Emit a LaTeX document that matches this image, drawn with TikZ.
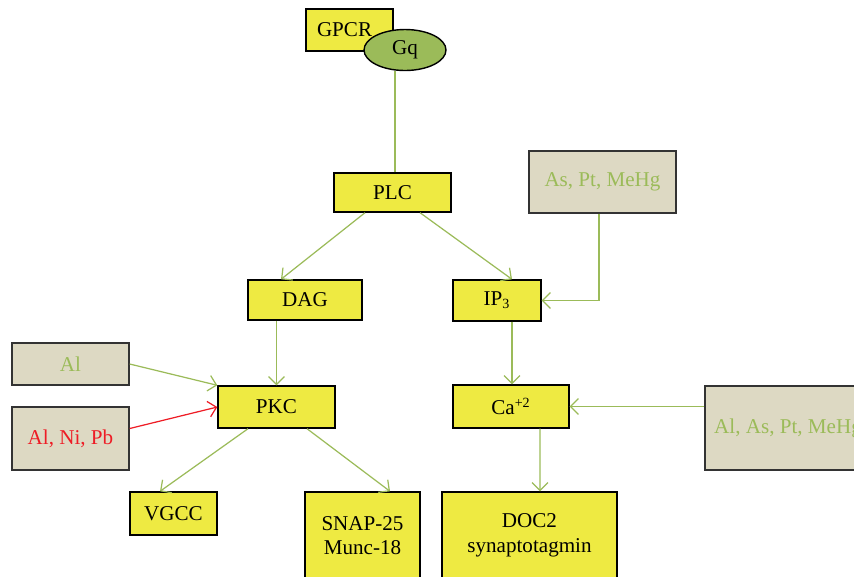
\documentclass[tikz,border=0pt]{standalone}
\usepackage{fontspec}
\setmainfont{Liberation Serif}
\usetikzlibrary{shapes.geometric, arrows.meta, calc}
\definecolor{boxyellow}{HTML}{EEEA42}
\definecolor{toxgray}{HTML}{DDD9C3}
\definecolor{leafgreen}{HTML}{9BBB59}
\definecolor{alertred}{HTML}{EE1C25}
\tikzstyle{protein} = [rectangle, draw=black, line width=0.8pt, fill=boxyellow, text centered, align=center, inner sep=0pt]
\tikzstyle{toxin} = [rectangle, draw=black!80, line width=0.8pt, fill=toxgray, text=leafgreen, align=center, inner sep=0pt]
\tikzstyle{link} = [leafgreen, line width=0.7pt]
\tikzstyle{arrow} = [leafgreen, line width=0.7pt, -{Straight Barb[length=4.5pt,width=9pt]}]

\begin{document}
\begin{tikzpicture}[x=0.02cm, y=-0.02cm, font=\fontsize{12}{14}\selectfont]
\clip (0,0) rectangle (854,576);
\node (gpcr) [protein, minimum width=1.74cm, minimum height=0.84cm, text width=1.3cm, align=left] at (349.5,30) {GPCR};
\node (gq) [ellipse, draw=black, line width=0.8pt, fill=leafgreen, minimum width=1.64cm, minimum height=0.82cm, inner sep=0pt] at (405,50) {Gq};
\node (plc) [protein, minimum width=2.34cm, minimum height=0.78cm] at (392.5,192.5) {PLC};
\node (metals1) [toxin, minimum width=2.94cm, minimum height=1.24cm] at (602.5,182) {As, Pt, MeHg};
\node (dag) [protein, minimum width=2.28cm, minimum height=0.8cm] at (305,300) {DAG};
\node (ip3) [protein, minimum width=1.76cm, minimum height=0.82cm] at (497,300.5) {IP\textsubscript{3}};
\node (al) [toxin, minimum width=2.34cm, minimum height=0.84cm] at (70.5,364) {Al};
\node (pkc) [protein, minimum width=2.34cm, minimum height=0.84cm] at (276.5,407) {PKC};
\node (alnipb) [toxin, text=alertred, minimum width=2.34cm, minimum height=1.26cm] at (70.5,438.5) {Al, Ni, Pb};
\node (ca) [protein, minimum width=2.32cm, minimum height=0.86cm] at (511,406.5) {Ca\textsuperscript{+2}};
\node (metals2) [toxin, minimum width=3.32cm, minimum height=1.68cm] at (788,428) {Al, As, Pt, MeHg};
\node (vgcc) [protein, minimum width=1.74cm, minimum height=0.86cm] at (173.5,513.5) {VGCC};
\node (snap) [protein, minimum width=2.3cm, minimum height=1.74cm] at (362.5,535.5) {SNAP-25\\Munc-18};
\node (doc) [protein, minimum width=3.5cm, minimum height=1.74cm] at (529.5,535.5) {DOC2\\synaptotagmin};

\draw [link] ($(plc.north)+(2.5,0)$) -- ($(plc.north |- gq.south)+(2.5,0)$);
\draw [arrow] ($(plc.south)+(-27.5,0)$) -- ($(dag.north)+(-24,0)$);
\draw [arrow] ($(plc.south)+(27.5,0)$) -- ($(ip3.north)+(15,0)$);
\draw [arrow] ($(metals1.south)+(-3.5,0)$) |- (ip3.east);
\draw [arrow] (dag.south -| pkc.north) -- (pkc.north);
\draw [arrow] ($(ip3.south)+(15,0)$) -- ($(ca.north)+(1,0)$);
\draw [arrow] (al.east) -- (pkc.north west);
\draw [arrow, alertred] ($(alnipb.east)+(0,-10)$) -- (pkc.west);
\draw [arrow] ($(pkc.south)+(-28.5,0)$) -- ($(vgcc.north)+(-13.5,0)$);
\draw [arrow] ($(pkc.south)+(30.5,0)$) -- ($(snap.north)+(27.5,0)$);
\draw [arrow] ($(ca.south)+(29,0)$) -- ($(doc.north)+(10.5,0)$);
\draw [arrow] (metals2.west |- ca.east) -- (ca.east);
\end{tikzpicture}
\end{document}
